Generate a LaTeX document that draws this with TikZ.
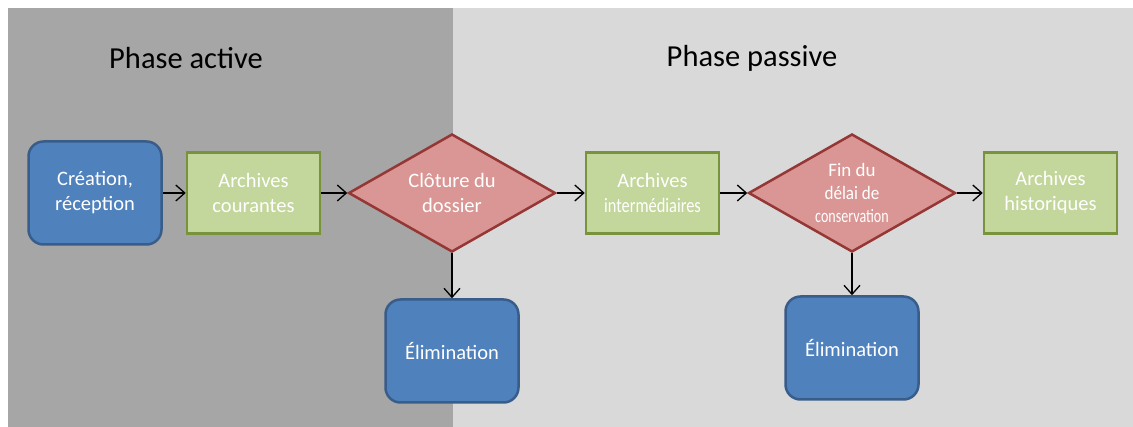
\documentclass[tikz,border=0pt]{standalone}
\usepackage{fontspec}
\setmainfont{Carlito}
\usetikzlibrary{positioning,shapes.geometric,arrows.meta}

\definecolor{bgactive}{HTML}{A6A6A6}
\definecolor{bgpassive}{HTML}{D9D9D9}
\definecolor{blfill}{HTML}{4F81BD}
\definecolor{bldraw}{HTML}{385D8A}
\definecolor{grfill}{HTML}{C3D69B}
\definecolor{grdraw}{HTML}{77933C}
\definecolor{rdfill}{HTML}{D99694}
\definecolor{rddraw}{HTML}{953735}

\newcommand{\squeeze}[2]{\scalebox{#1}[1]{#2}}

\tikzset{
  boxtext/.style={text=white,align=center,font=\fontsize{20.5}{25}\selectfont},
  startbox/.style={boxtext,draw=bldraw,fill=blfill,line width=2.5pt,rounded corners=15pt,
    minimum width=133pt,minimum height=103pt,inner sep=0pt},
  archive/.style={boxtext,draw=grdraw,fill=grfill,line width=2.5pt,
    minimum width=133pt,minimum height=81pt,inner sep=0pt},
  decision/.style={boxtext,diamond,draw=rddraw,fill=rdfill,line width=2.5pt,
    minimum width=207pt,minimum height=118pt,inner sep=-8pt},
  flow/.style={-{Straight Barb[length=9pt,width=16pt,line width=1.3pt]},line width=1.2pt,black},
  phase/.style={font=\fontsize{30.5}{36}\selectfont}
}

\begin{document}
\begin{tikzpicture}[x=1pt,y=-1pt]
	\useasboundingbox (0,0) rectangle (1133,427);
	\fill[bgactive] (8,8) rectangle (453,427);
	\fill[bgpassive] (453,8) rectangle (1133,427);

	\node[phase] (active) at (186,58) {Phase active};
	\node[phase] (passive) at (752,58) {Phase passive};

	\node[startbox] (creation) at (95,193) {Création,\\réception};
	\node[archive] (courantes)[right=23pt of creation] {Archives\\courantes};
	\node[decision] (cloture)[right=26pt of courantes] {Clôture du\\dossier};
	\node[archive] (intermed)[right=28pt of cloture] {Archives\\\squeeze{0.8}{intermédiaires}};
	\node[decision,font=\fontsize{19}{23}\selectfont,inner sep=-14pt] (findelai)[right=27pt of intermed]
		{Fin du\\\squeeze{0.9}{délai de}\\\squeeze{0.74}{conservation}};
	\node[archive] (historiques)[right=26pt of findelai] {Archives\\historiques};
	\node[startbox] (elim1)[below=45pt of cloture] {Élimination};
	\node[startbox] (elim2)[below=42pt of findelai] {Élimination};

	\draw[flow] (creation) -- (courantes);
	\draw[flow] (courantes) -- (cloture);
	\draw[flow] (cloture) -- (intermed);
	\draw[flow] (intermed) -- (findelai);
	\draw[flow] (findelai) -- (historiques);
	\draw[flow] (cloture) -- (elim1);
	\draw[flow] (findelai) -- (elim2);
\end{tikzpicture}
\end{document}
